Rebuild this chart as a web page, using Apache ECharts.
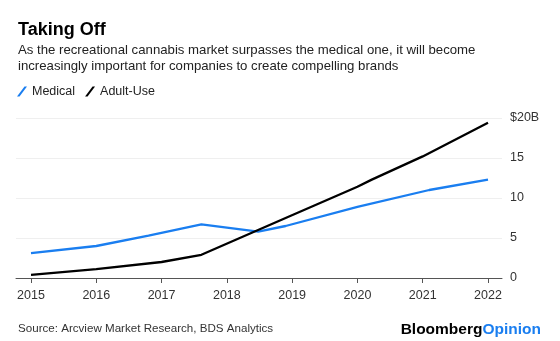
<!DOCTYPE html>
<html><head><meta charset="utf-8">
<script src="https://cdn.jsdelivr.net/npm/echarts@6/dist/echarts.min.js"></script>
<style>html,body{margin:0;padding:0;background:#fff}#c{width:560px;height:341px}</style>
</head><body><div id="c"></div>
<script>
const title = "Taking Off";
const subtitle = "As the recreational cannabis market surpasses the medical one, it will become\nincreasingly important for companies to create compelling brands";
const source = "Source: Arcview Market Research, BDS Analytics";
const seriesNames = ["Medical", "Adult-Use"];
const yearTicks = [2015, 2016, 2017, 2018, 2019, 2020, 2021, 2022];
const yTickLabels = ["0", "5", "10", "15", "$20B"];
// [year, value in $B]
const medical = [[2015, 3.1], [2016, 4.0], [2016.8, 5.3], [2017.61, 6.7], [2018.48, 5.8], [2018.9, 6.5], [2020, 8.9], [2021.1, 11.0], [2022, 12.3]];
const adultUse = [[2015, 0.4], [2016, 1.1], [2017, 2.0], [2017.61, 2.9], [2018.9, 7.5], [2020, 11.4], [2020.22, 12.3], [2021, 15.2], [2022, 19.4]];

const chart = echarts.init(document.getElementById('c'));
const font = 'Liberation Sans, Arial, Helvetica, sans-serif';
chart.setOption({
  animation: false,
  textStyle: { fontFamily: font },
  title: [
    { text: title, left: 13, top: 16, textStyle: { fontSize: 18, fontWeight: 'bold', color: '#000', fontFamily: font } },
    { text: subtitle, left: 13, top: 38, textStyle: { fontSize: 13.2, fontWeight: 'normal', color: '#222', lineHeight: 15.5, fontFamily: font } },
    { text: source, left: 13, top: 318, textStyle: { fontSize: 11.6, fontWeight: 'normal', color: '#333', fontFamily: font } },
    { text: '{a|Bloomberg}{b|Opinion}', right: 14, top: 317, textStyle: { rich: { a: { fontSize: 15.5, fontWeight: 'bold', color: '#000', fontFamily: font }, b: { fontSize: 15.5, fontWeight: 'bold', color: '#1a7ef0', fontFamily: font } } } }
  ],
  legend: {
    left: 12, top: 80, itemWidth: 10, itemHeight: 11, itemGap: 10,
    icon: 'path://M0,10 L7.5,0 L10,0 L2.5,10 Z',
    textStyle: { fontSize: 12.5, color: '#222', fontFamily: font },
    data: seriesNames
  },
  grid: [
    { left: 16, right: 58, top: 118, bottom: 63 },
    { left: 31, right: 72, top: 118, bottom: 63 }
  ],
  xAxis: [
    { gridIndex: 0, type: 'value', min: 0, max: 1, axisLine: { show: true, lineStyle: { color: '#555', width: 1 } }, axisTick: { show: false }, axisLabel: { show: false }, splitLine: { show: false } },
    { gridIndex: 1, type: 'value', min: yearTicks[0], max: yearTicks[yearTicks.length - 1], interval: 1,
      axisLine: { show: false }, axisTick: { show: true, length: 5, lineStyle: { color: '#555' } },
      axisLabel: { fontSize: 12.5, color: '#333', margin: 11, formatter: v => String(v) }, splitLine: { show: false } }
  ],
  yAxis: [
    { gridIndex: 0, type: 'value', position: 'right', min: 0, max: 20, interval: 5,
      axisLine: { show: false }, axisTick: { show: false },
      axisLabel: { fontSize: 12.5, color: '#333', margin: 8, formatter: v => yTickLabels[v / 5] },
      splitLine: { lineStyle: { color: '#efefef', width: 1 } } },
    { gridIndex: 1, type: 'value', min: 0, max: 20, show: false }
  ],
  series: [
    { name: seriesNames[0], type: 'line', xAxisIndex: 1, yAxisIndex: 1, data: medical, showSymbol: false, lineStyle: { color: '#1a7ef0', width: 2.3 }, itemStyle: { color: '#1a7ef0' }, z: 3 },
    { name: seriesNames[1], type: 'line', xAxisIndex: 1, yAxisIndex: 1, data: adultUse, showSymbol: false, lineStyle: { color: '#000', width: 2.3 }, itemStyle: { color: '#000' }, z: 4 }
  ]
});
</script></body></html>
